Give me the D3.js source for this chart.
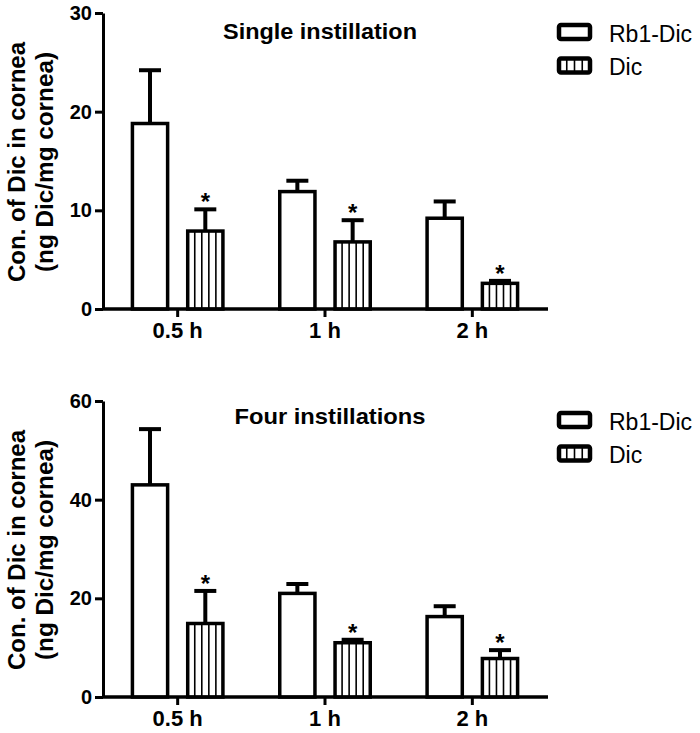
<!DOCTYPE html>
<html>
<head>
<meta charset="utf-8">
<script src="https://cdn.jsdelivr.net/npm/d3@7"></script>
<style>
  html, body { margin: 0; padding: 0; background: #fff; }
  svg { display: block; font-family: Arial, "Liberation Sans", Helvetica, sans-serif; }
</style>
</head>
<body>
<svg id="chart" width="700" height="733"></svg>
<script>
// ---- data ----
const categories = ["0.5 h", "1 h", "2 h"];
const seriesNames = ["Rb1-Dic", "Dic"];

const singleRb1 = [18.8, 11.9, 9.2];
const singleRb1Err = [5.4, 1.1, 1.7];
const singleDic = [7.9, 6.8, 2.6];
const singleDicErr = [2.2, 2.2, 0.25];
const singleStars = [true, true, true];
const singleTicks = [0, 10, 20, 30];

const fourRb1 = [43.0, 21.0, 16.3];
const fourRb1Err = [11.3, 1.9, 2.1];
const fourDic = [14.9, 11.0, 7.8];
const fourDicErr = [6.6, 0.6, 1.7];
const fourStars = [true, true, true];
const fourTicks = [0, 20, 40, 60];

const yLabel1 = "Con. of Dic in cornea";
const yLabel2 = "(ng Dic/mg cornea)";

const panels = [
  { title: "Single instillation", titleLen: 194, titleX: 320, titleY: 39,
    rb1: singleRb1, rb1Err: singleRb1Err, dic: singleDic, dicErr: singleDicErr,
    stars: singleStars, ticks: singleTicks, yMax: 30, yTop: 13, yBottom: 309 },
  { title: "Four instillations", titleLen: 191, titleX: 330, titleY: 424,
    rb1: fourRb1, rb1Err: fourRb1Err, dic: fourDic, dicErr: fourDicErr,
    stars: fourStars, ticks: fourTicks, yMax: 60, yTop: 401, yBottom: 697 }
];

const svg = d3.select("#chart");
const axisX0 = 103, axisX1 = 548;

const x = d3.scaleBand().domain(categories).range([104, 546]).padding(0);
const xSub = d3.scaleBand().domain(seriesNames).range([-47, 47]).paddingInner(0.3).paddingOuter(0);

const barStroke = 3.5;

panels.forEach(p => {
  const g = svg.append("g");
  const y = d3.scaleLinear().domain([0, p.yMax]).range([p.yBottom, p.yTop]);

  // y axis
  const yAxis = d3.axisLeft(y).tickValues(p.ticks).tickSize(8).tickPadding(3).tickSizeOuter(0);
  const ya = g.append("g").attr("transform", `translate(${axisX0},0)`).call(yAxis);
  ya.select(".domain").attr("stroke", "#000").attr("stroke-width", 3);
  ya.selectAll(".tick line").attr("stroke", "#000").attr("stroke-width", 3);
  ya.selectAll(".tick text").attr("fill", "#000").attr("font-size", 20).attr("font-weight", "bold")
    .attr("font-family", "Arial, 'Liberation Sans', sans-serif");

  // x axis
  const xAxis = d3.axisBottom(x).tickSize(8).tickPadding(0).tickSizeOuter(0);
  const xa = g.append("g").attr("transform", `translate(0,${p.yBottom})`).call(xAxis);
  xa.select(".domain").attr("d", `M${axisX0},0H${axisX1}`).attr("stroke", "#000").attr("stroke-width", 3);
  xa.selectAll(".tick line").attr("stroke", "#000").attr("stroke-width", 3);
  xa.selectAll(".tick text").attr("fill", "#000").attr("font-size", 22).attr("font-weight", "bold")
    .attr("font-family", "Arial, 'Liberation Sans', sans-serif")
    .attr("y", 29).attr("dy", null);

  // bars
  const rows = categories.map((c, i) => ([
    { cat: c, s: "Rb1-Dic", v: p.rb1[i], e: p.rb1Err[i], star: false },
    { cat: c, s: "Dic", v: p.dic[i], e: p.dicErr[i], star: p.stars[i] }
  ])).flat();

  rows.forEach(d => {
    const cx = x(d.cat) + x.bandwidth() / 2 + xSub(d.s);
    const bw = xSub.bandwidth();
    const left = cx + barStroke / 2;
    const w = bw - barStroke;
    const top = y(d.v);
    const bottom = y(0);
    const center = cx + bw / 2;
    const errTop = y(d.v + d.e);

    g.append("line").attr("x1", center).attr("x2", center)
      .attr("y1", top).attr("y2", errTop)
      .attr("stroke", "#000").attr("stroke-width", 4);
    g.append("line").attr("x1", center - 11).attr("x2", center + 11)
      .attr("y1", errTop).attr("y2", errTop)
      .attr("stroke", "#000").attr("stroke-width", 4);

    g.append("rect").attr("x", left).attr("y", top)
      .attr("width", w).attr("height", bottom - top)
      .attr("fill", "#fff").attr("stroke", "#000").attr("stroke-width", barStroke);

    if (d.s === "Dic") {
      for (let k = 1; k <= 4; k++) {
        const lx = left + w * k / 5;
        g.append("line").attr("x1", lx).attr("x2", lx)
          .attr("y1", top).attr("y2", bottom)
          .attr("stroke", "#000").attr("stroke-width", 1.6);
      }
    }
    if (d.star) {
      g.append("text").attr("x", center).attr("y", errTop + 1)
        .attr("text-anchor", "middle").attr("font-size", 24).attr("font-weight", "bold")
        .attr("fill", "#000").text("*");
    }
  });

  g.append("line").attr("x1", axisX0).attr("x2", axisX1)
    .attr("y1", p.yBottom).attr("y2", p.yBottom)
    .attr("stroke", "#000").attr("stroke-width", 3);

  // title
  g.append("text").attr("x", p.titleX).attr("y", p.titleY)
    .attr("text-anchor", "middle").attr("font-size", 22).attr("font-weight", "bold")
    .attr("textLength", p.titleLen).attr("lengthAdjust", "spacingAndGlyphs")
    .attr("fill", "#000").text(p.title);

  // y label
  const yc = (p.yTop + p.yBottom) / 2 + 1;
  g.append("text").attr("transform", `translate(25,${yc}) rotate(-90)`)
    .attr("text-anchor", "middle").attr("font-size", 23).attr("font-weight", "bold")
    .attr("textLength", 240).attr("lengthAdjust", "spacingAndGlyphs")
    .attr("fill", "#000").text(yLabel1);
  g.append("text").attr("transform", `translate(53,${yc}) rotate(-90)`)
    .attr("text-anchor", "middle").attr("font-size", 23).attr("font-weight", "bold")
    .attr("textLength", 220).attr("lengthAdjust", "spacingAndGlyphs")
    .attr("fill", "#000").text(yLabel2);

  // legend
  const off = p.yBottom - 309;
  seriesNames.forEach((s, i) => {
    const by = 25 + off + i * 33.5;
    const bx = 559, bwid = 31, bh = 14;
    g.append("rect").attr("x", bx).attr("y", by).attr("width", bwid).attr("height", bh)
      .attr("rx", 2).attr("fill", "#fff").attr("stroke", "#000").attr("stroke-width", 4.5);
    if (s === "Dic") {
      for (let k = 1; k <= 3; k++) {
        const lx = bx + bwid * k / 4;
        g.append("line").attr("x1", lx).attr("x2", lx).attr("y1", by).attr("y2", by + bh)
          .attr("stroke", "#000").attr("stroke-width", 1.6);
      }
    }
    g.append("text").attr("x", 609).attr("y", by + 16.5)
      .attr("font-size", 23).attr("fill", "#000").text(s);
  });
});
</script>
</body>
</html>
